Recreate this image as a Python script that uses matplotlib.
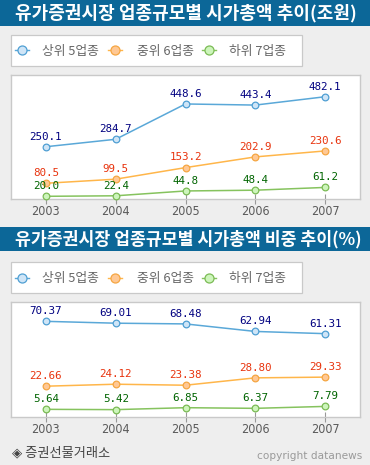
import matplotlib
matplotlib.use("Agg")
import matplotlib.pyplot as plt
from matplotlib.patches import Rectangle
from matplotlib.lines import Line2D

years = [2003, 2004, 2005, 2006, 2007]
series_names = ["상위 5업종", "중위 6업종", "하위 7업종"]
top5_value = [250.1, 284.7, 448.6, 443.4, 482.1]
mid6_value = [80.5, 99.5, 153.2, 202.9, 230.6]
low7_value = [20.0, 22.4, 44.8, 48.4, 61.2]
top5_share = [70.37, 69.01, 68.48, 62.94, 61.31]
mid6_share = [22.66, 24.12, 23.38, 28.80, 29.33]
low7_share = [5.64, 5.42, 6.85, 6.37, 7.79]
title1 = "유가증권시장 업종규모별 시가총액 추이(조원)"
title2 = "유가증권시장 업종규모별 시가총액 비중 추이(%)"
source = "◈ 증권선물거래소"
credit = "copyright datanews"

W, H = 370, 465
KR = ["Noto Sans CJK KR", "DejaVu Sans"]
BG = "#eeeeee"
BAR = "#0c6798"
BORDER = "#c9c9c9"
line_colors = ["#5aa8d8", "#ffb64a", "#86c35e"]
face_colors = ["#cfe5f7", "#ffc894", "#cdf5bb"]
edge_colors = ["#4f9fd3", "#f5a642", "#7bbb55"]
label_colors = ["#000080", "#e8330d", "#006400"]

fig = plt.figure(figsize=(W / 100, H / 100), dpi=100, facecolor=BG)
renderer = fig.canvas.get_renderer()


def fx(x):
    return x / W


def fy(y):
    return 1 - y / H


def add_rect(x0, y0, x1, y1, fc, ec="none", lw=0.0):
    fig.patches.append(Rectangle((fx(x0), fy(y1)), fx(x1) - fx(x0), fy(y0) - fy(y1),
                                 transform=fig.transFigure, facecolor=fc,
                                 edgecolor=ec, linewidth=lw, zorder=0))


def title_bar(y0, y1, text, x_end):
    add_rect(0, y0, W, y1, BAR)
    t = fig.text(fx(15), fy((y0 + y1) / 2 + 0.5), text, color="white", fontsize=12.5,
                 family=KR, fontweight="bold", va="center", ha="left")
    w = t.get_window_extent(renderer).width
    t.set_fontsize(12.5 * (x_end - 15) / w)


def legend_box(y0, y1):
    add_rect(11, y0, 302, y1, "white", BORDER, 0.9)
    yc = (y0 + y1) / 2
    xs = [22, 115, 209]
    txs = [42, 137, 229]
    for i in range(3):
        fig.lines.append(Line2D([fx(xs[i] - 7), fx(xs[i] + 7)], [fy(yc), fy(yc)],
                                transform=fig.transFigure, color=line_colors[i], lw=1.0))
        fig.lines.append(Line2D([fx(xs[i])], [fy(yc)], transform=fig.transFigure,
                                marker="o", ms=6.5, mfc=face_colors[i],
                                mec=edge_colors[i], mew=0.9, lw=0))
        fig.text(fx(txs[i]), fy(yc + 0.5), series_names[i], color="#666666",
                 fontsize=9.2, family=KR, va="center", ha="left")


def chart(box, series, ylim, fmt):
    x0, y0, x1, y1 = box
    ax = fig.add_axes([fx(x0), fy(y1), fx(x1) - fx(x0), fy(y0) - fy(y1)])
    ax.set_facecolor("white")
    for s in ax.spines.values():
        s.set_color(BORDER)
        s.set_linewidth(1.0)
    for i, vals in enumerate(series):
        ax.plot(years, vals, color=line_colors[i], lw=1.1, marker="o", ms=4.8,
                mfc=face_colors[i], mec=edge_colors[i], mew=0.9, zorder=3,
                clip_on=False)
        for x, v in zip(years, vals):
            ax.annotate(fmt.format(v), (x, v), xytext=(0, 7.3),
                        textcoords="offset points", ha="center", va="center",
                        color=label_colors[i], fontsize=7.8,
                        family="DejaVu Sans Mono", zorder=4)
    ax.set_xlim(2002.5, 2007.5)
    ax.set_ylim(*ylim)
    ax.set_yticks([])
    ax.set_xticks(years)
    ax.set_xticklabels([str(y) for y in years])
    ax.tick_params(axis="x", direction="inout", length=7, width=0.8,
                   color="#999999", labelcolor="#5a5a5a", labelsize=9.0, pad=0.5)
    for lab in ax.get_xticklabels():
        lab.set_family("DejaVu Sans")
        lab.set_fontstretch("condensed")
    return ax


title_bar(0, 26, title1, 357)
legend_box(35, 66)
chart((11, 75, 360, 199), [top5_value, mid6_value, low7_value], (7.5, 583), "{:.1f}")

title_bar(227, 251, title2, 363)
legend_box(262, 293)
chart((11, 302, 360, 417), [top5_share, mid6_share, low7_share], (0.0, 84.6), "{:.2f}")

fig.text(fx(12), fy(453), source, color="#444444", fontsize=9.5, family=KR,
         va="center", ha="left")
fig.text(fx(362), fy(455.5), credit, color="#9a9a9a", fontsize=7.6,
         family="DejaVu Sans", va="center", ha="right")

fig.savefig("out.png", dpi=100, facecolor=BG)
